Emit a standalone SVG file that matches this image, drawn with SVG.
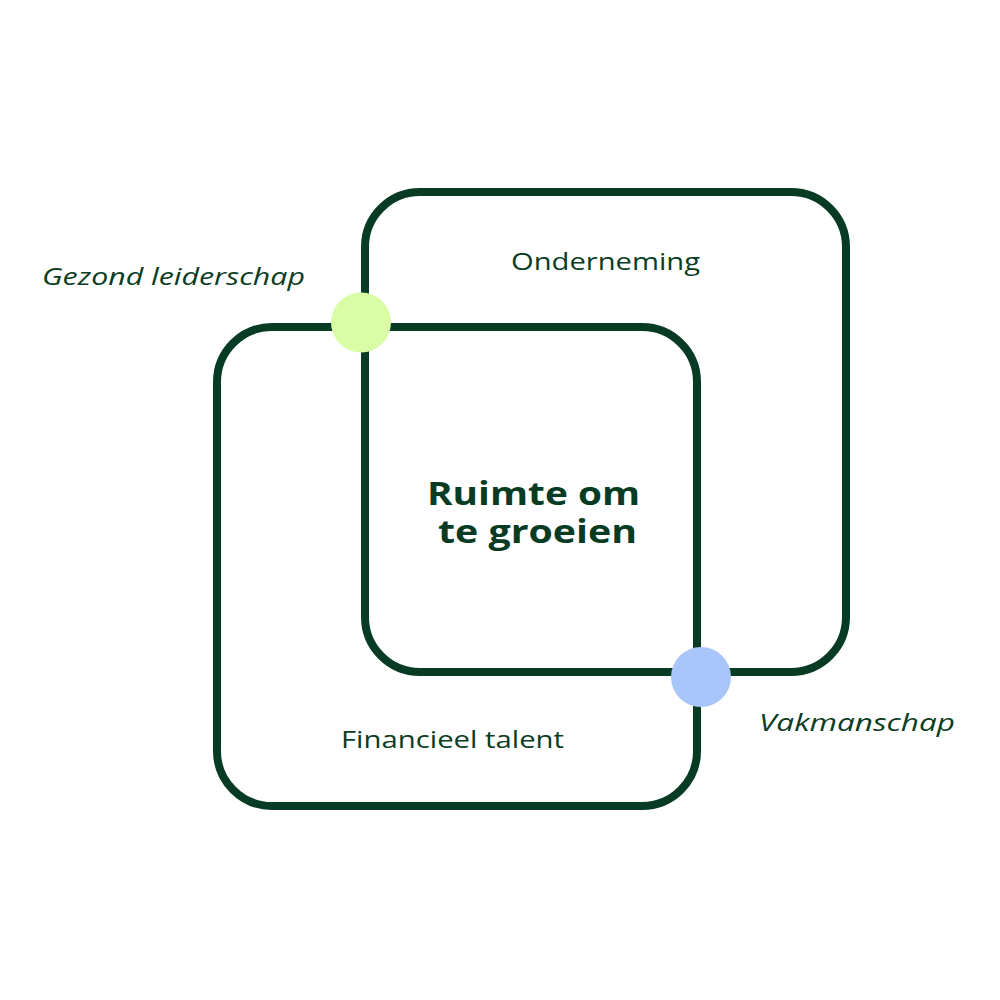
<svg xmlns="http://www.w3.org/2000/svg" width="1000" height="1000" viewBox="0 0 1000 1000">
<style>
.box{fill:none;stroke:#073b24;stroke-width:8}
.lbl{font-family:"Open Sans","Noto Sans",sans-serif;font-size:24px;fill:#0a3d24}
.it{font-style:italic}
.title{font-family:"Open Sans","Noto Sans",sans-serif;font-size:32px;font-weight:bold;fill:#073b24}
</style>
<rect width="1000" height="1000" fill="#ffffff"/>
<g id="connectors">
<rect id="box-onderneming" class="box" x="365" y="192" width="481" height="480" rx="55" ry="55"/>
<rect id="box-financieel" class="box" x="217" y="327" width="480" height="479" rx="55" ry="55"/>
</g>
<g id="node-gezond">
<circle cx="361" cy="322.5" r="30" fill="#d9fda5"/>
<text class="lbl it" x="42" y="285" textLength="263" lengthAdjust="spacingAndGlyphs">Gezond leiderschap</text>
</g>
<g id="node-vakmanschap">
<circle cx="701" cy="677" r="30" fill="#a9c6fa"/>
<text class="lbl it" x="759" y="731" textLength="196" lengthAdjust="spacingAndGlyphs">Vakmanschap</text>
</g>
<g id="node-onderneming">
<text class="lbl" x="511" y="270" textLength="189" lengthAdjust="spacingAndGlyphs">Onderneming</text>
</g>
<g id="node-financieel">
<text class="lbl" x="341" y="748" textLength="223" lengthAdjust="spacingAndGlyphs">Financieel talent</text>
</g>
<g id="node-center">
<text class="title" x="427" y="505" textLength="213" lengthAdjust="spacingAndGlyphs">Ruimte om</text>
<text class="title" x="438" y="543" textLength="199" lengthAdjust="spacingAndGlyphs">te groeien</text>
</g>
</svg>
